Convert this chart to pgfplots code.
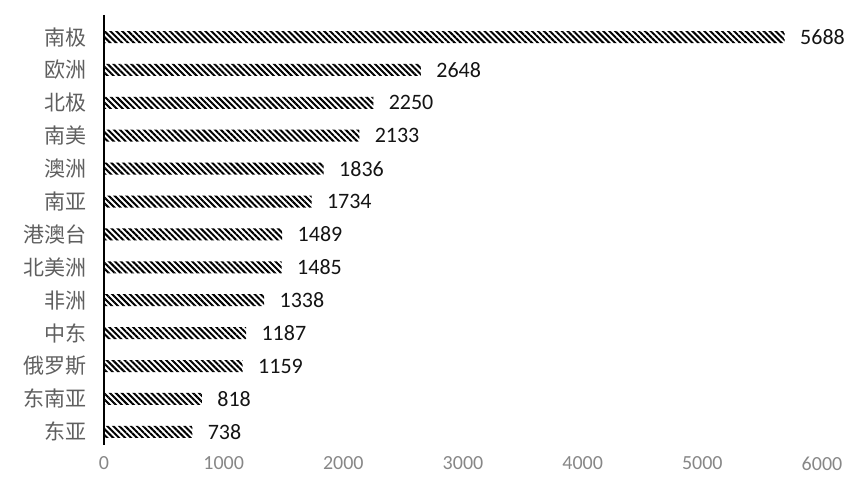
\documentclass[border=0pt]{standalone}
\usepackage{pgfplots}
\pgfplotsset{compat=1.18}
\usepackage{fontspec}
\setmainfont{Carlito}
\newfontfamily\cjk{Noto Sans CJK SC}
\usetikzlibrary{patterns.meta}
\definecolor{lblgray}{RGB}{95,95,95}
\definecolor{tickgray}{RGB}{135,135,135}
\definecolor{numcol}{RGB}{20,20,20}
\begin{document}
\begin{tikzpicture}[x=1bp,y=1bp]
\path[use as bounding box] (0,0) rectangle (853,485);
\begin{axis}[
  at={(104bp,40bp)}, anchor=south west,
  scale only axis, width=718bp, height=430bp,
  xbar, bar width=12bp,
  xmin=0, xmax=6000, ymin=-0.67, ymax=12.4,
  y dir=reverse,
  axis lines*=left,
  x axis line style={draw=none},
  y axis line style={black, line width=1.2pt},
  major tick length=0pt,
  xtick={0,1000,2000,3000,4000,5000,6000},
  ytick={0,...,12},
  yticklabels={南极,欧洲,北极,南美,澳洲,南亚,港澳台,北美洲,非洲,中东,俄罗斯,东南亚,东亚},
  yticklabel style={font=\cjk\fontsize{21bp}{24bp}\selectfont, text=lblgray, xshift=-14bp},
  xticklabel style={font=\fontsize{20bp}{24bp}\selectfont, text=tickgray, yshift=-8bp},
  /pgf/number format/assume math mode=true,
  /pgf/number format/1000 sep={},
  scaled x ticks=false,
  nodes near coords,
  nodes near coords style={font=\fontsize{22bp}{24bp}\selectfont, text=numcol, anchor=west, xshift=12bp},
  point meta=x,
]
\addplot[draw=none, pattern={Lines[angle=-45, distance=4.2bp, line width=2bp]}, pattern color=black]
coordinates {
(5688,0) (2648,1) (2250,2) (2133,3) (1836,4) (1734,5) (1489,6) (1485,7) (1338,8) (1187,9) (1159,10) (818,11) (738,12)
};
\end{axis}
\end{tikzpicture}
\end{document}
